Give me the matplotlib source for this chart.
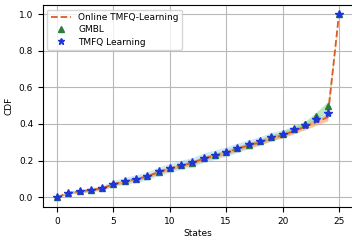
import numpy as np
import matplotlib
matplotlib.use("Agg")
import matplotlib.pyplot as plt

states = np.arange(26)

online_cdf = [0.0, 0.024, 0.031, 0.039, 0.048, 0.071, 0.086, 0.099, 0.113, 0.137, 0.156,
              0.173, 0.187, 0.211, 0.227, 0.244, 0.265, 0.283, 0.300, 0.322, 0.338,
              0.361, 0.385, 0.410, 0.437, 1.0]
online_std = [0.004, 0.006, 0.007, 0.007, 0.008, 0.009, 0.009, 0.010, 0.010, 0.011, 0.011,
              0.011, 0.012, 0.012, 0.012, 0.013, 0.013, 0.013, 0.014, 0.014, 0.014,
              0.015, 0.016, 0.017, 0.020, 0.0]

gmbl_cdf = [0.0, 0.023, 0.031, 0.040, 0.049, 0.072, 0.087, 0.100, 0.114, 0.139, 0.157,
            0.175, 0.189, 0.214, 0.230, 0.247, 0.268, 0.287, 0.305, 0.329, 0.346,
            0.372, 0.398, 0.445, 0.497, 1.0]
gmbl_std = [0.003, 0.005, 0.006, 0.006, 0.007, 0.008, 0.008, 0.009, 0.009, 0.010, 0.010,
            0.010, 0.011, 0.011, 0.011, 0.012, 0.012, 0.012, 0.013, 0.013, 0.014,
            0.015, 0.017, 0.020, 0.025, 0.0]

tmfq_cdf = [0.0, 0.025, 0.032, 0.040, 0.050, 0.074, 0.089, 0.101, 0.116, 0.141, 0.160,
            0.177, 0.191, 0.216, 0.232, 0.249, 0.270, 0.289, 0.307, 0.331, 0.347,
            0.372, 0.397, 0.428, 0.459, 1.0]
tmfq_std = [0.004, 0.008, 0.010, 0.012, 0.014, 0.017, 0.019, 0.021, 0.022, 0.024, 0.025,
            0.025, 0.026, 0.026, 0.026, 0.026, 0.026, 0.025, 0.024, 0.023, 0.021,
            0.019, 0.016, 0.012, 0.008, 0.0]

plt.rcParams["font.size"] = 6.5

fig = plt.figure(figsize=(3.52, 2.43), dpi=100)
ax = fig.add_axes([0.122, 0.148, 0.881, 0.831])

def band(mean, std, color, alpha):
    mean = np.array(mean)
    std = np.array(std)
    ax.fill_between(states, mean - std, mean + std, color=color, alpha=alpha, linewidth=0)

band(tmfq_cdf, tmfq_std, "#9fd3f0", 0.5)
band(gmbl_cdf, gmbl_std, "#7fd17f", 0.5)
band(online_cdf, online_std, "#f2a15f", 0.6)

ax.plot(states, online_cdf, "--", color="#dd5a24", linewidth=1.3, label="Online TMFQ-Learning", zorder=3)
ax.plot(states, gmbl_cdf, "^", color="#2e7d3a", markersize=5, linestyle="none", label="GMBL", zorder=4)
ax.plot(states, tmfq_cdf, "*", color="#1e35d8", markersize=6, linestyle="none", label="TMFQ Learning", zorder=5)

ax.set_xticks([0, 5, 10, 15, 20, 25])
ax.set_yticks([0.0, 0.2, 0.4, 0.6, 0.8, 1.0])
ax.grid(True, color="#b8b8b8", linewidth=0.8)
ax.set_axisbelow(True)
ax.set_xlabel("States", labelpad=2)
ax.set_ylabel("CDF")
ax.legend(loc="upper left", fontsize=6.5, handlelength=2.2, borderpad=0.4, labelspacing=0.35,
          markerscale=0.8)

fig.savefig("out.png", dpi=100)
